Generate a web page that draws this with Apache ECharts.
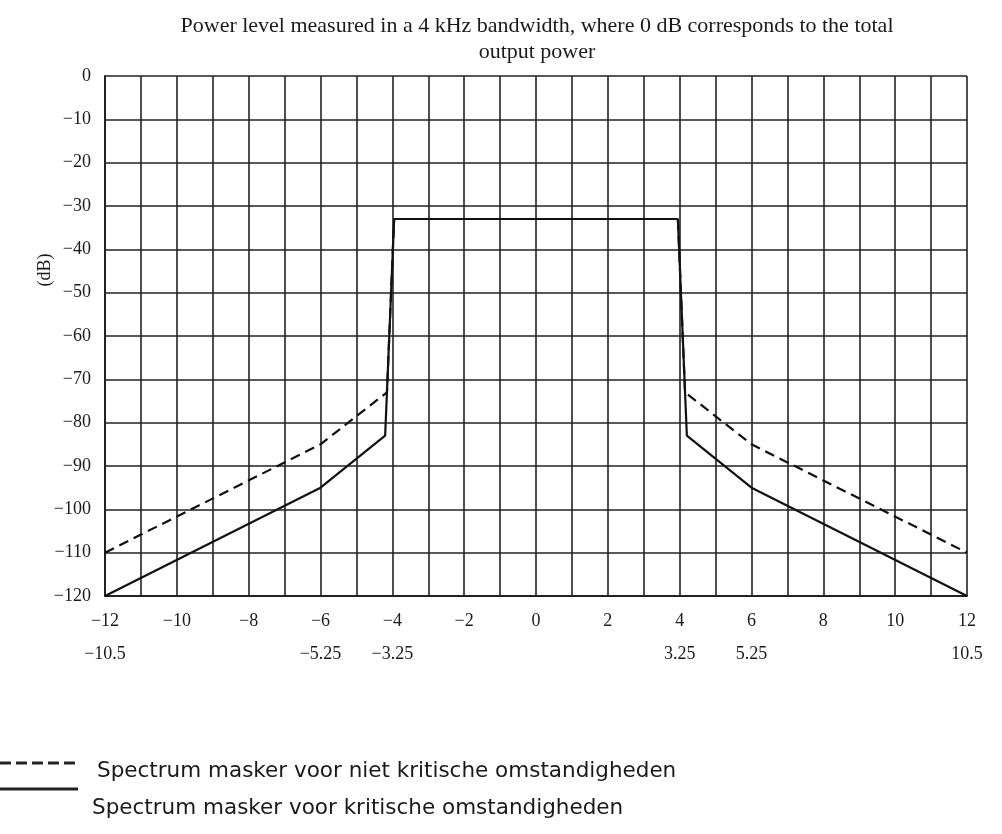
<!DOCTYPE html>
<html>
<head>
<meta charset="utf-8">
<script src="https://cdn.jsdelivr.net/npm/echarts@6/dist/echarts.min.js"></script>
<style>html,body{margin:0;padding:0;background:#fff;}#c{width:1002px;height:834px;}</style>
</head>
<body>
<div id="c"></div>
<script>
// ---- data ----
const titleText = 'Power level measured in a 4 kHz bandwidth, where 0 dB corresponds to the total\noutput power';
const yAxisName = '(dB)';
const seriesNames = ['Spectrum masker voor niet kritische omstandigheden', 'Spectrum masker voor kritische omstandigheden'];
const criticalX = [-12, -6, -4.2, -3.95, 3.95, 4.2, 6, 12];
const criticalY = [-120, -95, -83, -33, -33, -83, -95, -120];
const nonCriticalX = [-12, -6, -4.15, -3.95, 3.95, 4.15, 6, 12];
const nonCriticalY = [-110, -85, -73, -33, -33, -73, -85, -110];
const secondaryTickPositions = [-12, -6, -4, 4, 6, 12];
const secondaryTickLabels = ['\u221210.5', '\u22125.25', '\u22123.25', '3.25', '5.25', '10.5'];

const fmtNum = v => (v < 0 ? '\u2212' + Math.abs(v) : String(v));
const serif = 'Liberation Serif';
const ink = '#1a1a1a';

const chart = echarts.init(document.getElementById('c'), null, {renderer: 'canvas'});
chart.setOption({
  animation: false,
  backgroundColor: '#fff',
  title: {
    text: titleText,
    left: 537,
    top: 13,
    padding: 0,
    textAlign: 'center',
    textStyle: {fontFamily: serif, fontSize: 22, fontWeight: 'normal', color: ink, lineHeight: 26}
  },
  grid: {left: 105, right: 35, top: 76, bottom: 238},
  xAxis: [{
    type: 'value', min: -12, max: 12, interval: 1,
    axisLine: {show: true, onZero: false, lineStyle: {color: '#222', width: 2}},
    axisTick: {show: false},
    splitLine: {show: true, lineStyle: {color: '#222', width: 1.6}},
    axisLabel: {
      margin: 16, fontFamily: serif, fontSize: 18, color: ink,
      formatter: v => (v % 2 === 0 ? fmtNum(v) : '')
    }
  }, {
    type: 'value', min: -12, max: 12, interval: 1, position: 'bottom', offset: 33,
    axisLine: {show: false, onZero: false}, axisTick: {show: false}, splitLine: {show: false},
    axisLabel: {
      margin: 16, fontFamily: serif, fontSize: 18, color: ink,
      formatter: v => {
        const i = secondaryTickPositions.indexOf(v);
        return i >= 0 ? secondaryTickLabels[i] : '';
      }
    }
  }],
  yAxis: {
    type: 'value', min: -120, max: 0, interval: 10,
    axisLine: {show: true, onZero: false, lineStyle: {color: '#222', width: 2}},
    axisTick: {show: false},
    splitLine: {show: true, lineStyle: {color: '#222', width: 1.6}},
    axisLabel: {margin: 14, fontFamily: serif, fontSize: 18, color: ink, formatter: fmtNum}
  },
  series: [{
    name: seriesNames[1], type: 'line', xAxisIndex: 0, symbol: 'none',
    data: criticalX.map((x, i) => [x, criticalY[i]]),
    lineStyle: {color: '#111', width: 2.2}, z: 3
  }, {
    name: seriesNames[0], type: 'line', xAxisIndex: 0, symbol: 'none',
    data: nonCriticalX.map((x, i) => [x, nonCriticalY[i]]),
    lineStyle: {color: '#111', width: 2.2, type: [10, 6]}, z: 4
  }],
  graphic: [
    {type: 'text', x: 45, y: 270, rotation: Math.PI / 2,
     style: {text: yAxisName, fontFamily: serif, fontSize: 18, fill: ink, align: 'center', verticalAlign: 'middle'}},
    {type: 'line', shape: {x1: 0, y1: 763, x2: 78, y2: 763},
     style: {stroke: '#222', lineWidth: 3, lineDash: [11, 5]}},
    {type: 'text', x: 97, y: 771,
     style: {text: seriesNames[0], fontFamily: 'DejaVu Sans', fontSize: 21.5, fill: ink, verticalAlign: 'middle'}},
    {type: 'line', shape: {x1: 0, y1: 789, x2: 78, y2: 789},
     style: {stroke: '#222', lineWidth: 3}},
    {type: 'text', x: 92, y: 808,
     style: {text: seriesNames[1], fontFamily: 'DejaVu Sans', fontSize: 21.5, fill: ink, verticalAlign: 'middle'}}
  ]
});
</script>
</body>
</html>
